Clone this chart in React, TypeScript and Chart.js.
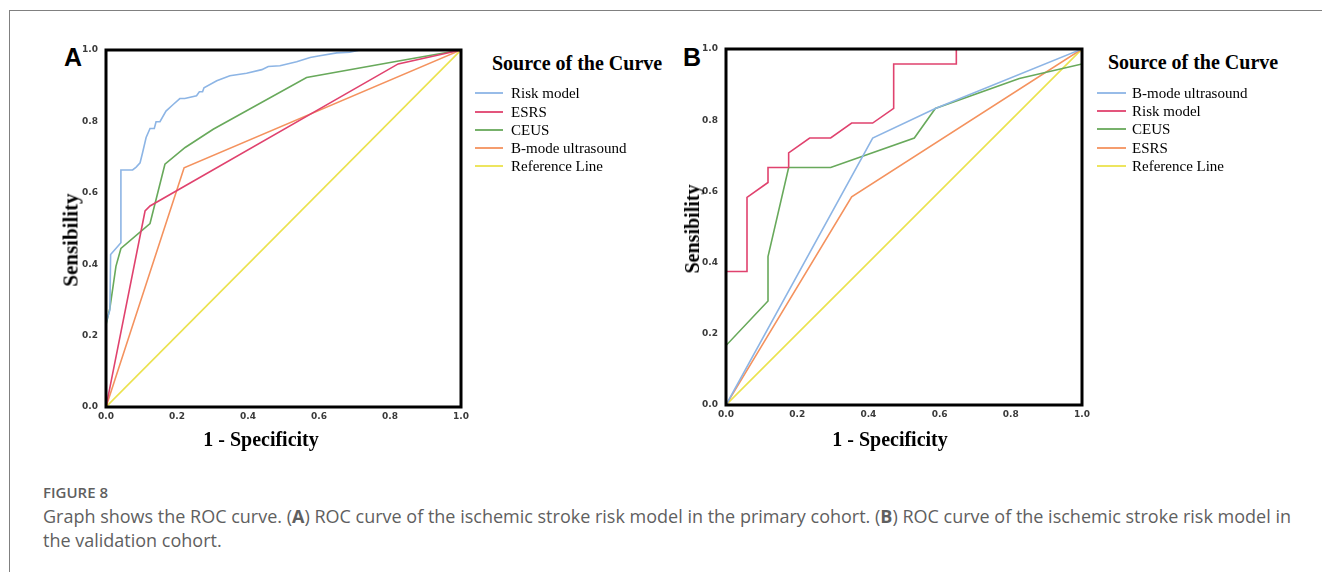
import React, { useEffect, useRef } from 'react';
import { Chart, registerables } from 'chart.js';

Chart.register(...registerables);

// ---------- shared axis ticks ----------
const TICK_VALUES = [0, 0.2, 0.4, 0.6, 0.8, 1.0];
const TICK_LABELS = ['0.0', '0.2', '0.4', '0.6', '0.8', '1.0'];

// ---------- colours ----------
const C_BLUE = '#8db5e5';
const C_RED = '#e0426e';
const C_GREEN = '#68a95b';
const C_ORANGE = '#f4925e';
const C_YELLOW = '#ebe24e';

// ---------- Panel A (primary cohort) ----------
const A_RISK_X = [0, 0, 0.011, 0.013, 0.042, 0.042, 0.075, 0.085, 0.096, 0.103, 0.113, 0.124, 0.136, 0.141, 0.152, 0.169, 0.19, 0.208, 0.222, 0.255, 0.263, 0.272, 0.276, 0.312, 0.349, 0.396, 0.439, 0.457, 0.49, 0.537, 0.575, 0.598, 0.65, 0.687, 0.715, 1];
const A_RISK_Y = [0, 0.236, 0.272, 0.427, 0.46, 0.664, 0.664, 0.672, 0.684, 0.712, 0.755, 0.78, 0.78, 0.799, 0.799, 0.829, 0.848, 0.864, 0.864, 0.872, 0.883, 0.883, 0.894, 0.914, 0.928, 0.935, 0.945, 0.954, 0.956, 0.967, 0.979, 0.983, 0.992, 0.994, 1, 1];
const A_ESRS_X = [0, 0.11, 0.124, 0.823, 1];
const A_ESRS_Y = [0, 0.549, 0.563, 0.961, 1];
const A_CEUS_X = [0, 0, 0.011, 0.028, 0.042, 0.124, 0.166, 0.223, 0.302, 0.565, 0.828, 1];
const A_CEUS_Y = [0, 0.23, 0.277, 0.394, 0.444, 0.514, 0.68, 0.727, 0.778, 0.923, 0.97, 1];
const A_BMODE_X = [0, 0.22, 1];
const A_BMODE_Y = [0, 0.67, 1];
const REF_X = [0, 1];
const REF_Y = [0, 1];

// ---------- Panel B (validation cohort) ----------
const B_BMODE_X = [0, 0.412, 0.588, 1];
const B_BMODE_Y = [0, 0.75, 0.833, 1];
const B_RISK_X = [0, 0, 0.059, 0.059, 0.118, 0.118, 0.176, 0.176, 0.235, 0.294, 0.353, 0.412, 0.471, 0.471, 0.647, 0.647, 1];
const B_RISK_Y = [0, 0.375, 0.375, 0.583, 0.625, 0.667, 0.667, 0.708, 0.75, 0.75, 0.792, 0.792, 0.833, 0.958, 0.958, 1, 1];
const B_CEUS_X = [0, 0, 0.118, 0.118, 0.176, 0.294, 0.529, 0.588, 0.824, 1, 1];
const B_CEUS_Y = [0, 0.167, 0.292, 0.417, 0.667, 0.667, 0.75, 0.833, 0.917, 0.958, 1];
const B_ESRS_X = [0, 0.353, 1];
const B_ESRS_Y = [0, 0.585, 1];

const LEGEND_A = ['Risk model', 'ESRS', 'CEUS', 'B-mode ultrasound', 'Reference Line'];
const LEGEND_A_COLORS = [C_BLUE, C_RED, C_GREEN, C_ORANGE, C_YELLOW];
const LEGEND_B = ['B-mode ultrasound', 'Risk model', 'CEUS', 'ESRS', 'Reference Line'];
const LEGEND_B_COLORS = [C_BLUE, C_RED, C_GREEN, C_ORANGE, C_YELLOW];

const SERIES_A = [
  { label: 'Risk model', x: A_RISK_X, y: A_RISK_Y, color: C_BLUE },
  { label: 'ESRS', x: A_ESRS_X, y: A_ESRS_Y, color: C_RED },
  { label: 'CEUS', x: A_CEUS_X, y: A_CEUS_Y, color: C_GREEN },
  { label: 'B-mode ultrasound', x: A_BMODE_X, y: A_BMODE_Y, color: C_ORANGE },
  { label: 'Reference Line', x: REF_X, y: REF_Y, color: C_YELLOW },
];
const SERIES_B = [
  { label: 'B-mode ultrasound', x: B_BMODE_X, y: B_BMODE_Y, color: C_BLUE },
  { label: 'Risk model', x: B_RISK_X, y: B_RISK_Y, color: C_RED },
  { label: 'CEUS', x: B_CEUS_X, y: B_CEUS_Y, color: C_GREEN },
  { label: 'ESRS', x: B_ESRS_X, y: B_ESRS_Y, color: C_ORANGE },
  { label: 'Reference Line', x: REF_X, y: REF_Y, color: C_YELLOW },
];

const SERIF = '"Liberation Serif", "Times New Roman", serif';
const SANS = '"Liberation Sans", Arial, sans-serif';
const CAPTION_FONT = '"Open Sans", "Noto Sans", sans-serif';

const framePlugin = {
  id: 'frame',
  afterDatasetsDraw(chart: any) {
    const { ctx, chartArea } = chart;
    const { left, top, right, bottom } = chartArea;
    ctx.save();
    ctx.strokeStyle = '#000';
    ctx.lineWidth = 3;
    ctx.strokeRect(left, top, right - left, bottom - top);
    ctx.restore();
  },
};

type Series = { label: string; x: number[]; y: number[]; color: string };

function RocChart(props: {
  series: Series[];
  left: number; top: number; width: number; height: number;
  areaLeft: number; areaTop: number; areaRight: number; areaBottom: number;
}) {
  const ref = useRef<HTMLCanvasElement | null>(null);
  const { series, left, top, width, height, areaLeft, areaTop, areaRight, areaBottom } = props;
  useEffect(() => {
    if (!ref.current) return;
    const tickFont = { family: '"DejaVu Sans", sans-serif', size: 9, weight: 'bold' as const };
    const chart = new Chart(ref.current, {
      type: 'line',
      data: {
        datasets: series.map((s) => ({
          label: s.label,
          data: s.x.map((xv, i) => ({ x: xv, y: s.y[i] })),
          borderColor: s.color,
          backgroundColor: s.color,
          borderWidth: 1.6,
          pointRadius: 0,
          tension: 0,
          fill: false,
        })),
      },
      options: {
        responsive: false,
        animation: false,
        layout: { padding: { top: areaTop - top, right: left + width - areaRight, left: 0, bottom: 0 } },
        plugins: { legend: { display: false }, tooltip: { enabled: false } },
        scales: {
          x: {
            type: 'linear',
            min: 0,
            max: 1,
            afterBuildTicks: (s: any) => { s.ticks = TICK_VALUES.map((v) => ({ value: v })); },
            afterFit: (s: any) => { s.height = top + height - areaBottom; },
            grid: { display: false, drawTicks: false },
            border: { display: false },
            ticks: {
              callback: (_v: any, i: number) => TICK_LABELS[i],
              padding: 4,
              font: tickFont,
              color: '#3a3a3a',
              maxRotation: 0,
              autoSkip: false,
            },
          },
          y: {
            type: 'linear',
            min: 0,
            max: 1,
            afterBuildTicks: (s: any) => { s.ticks = TICK_VALUES.map((v) => ({ value: v })); },
            afterFit: (s: any) => { s.width = areaLeft - left; },
            grid: { display: false, drawTicks: false },
            border: { display: false },
            ticks: {
              callback: (_v: any, i: number) => TICK_LABELS[i],
              padding: 8,
              font: tickFont,
              color: '#3a3a3a',
              autoSkip: false,
            },
          },
        },
      },
      plugins: [framePlugin],
    });
    return () => chart.destroy();
  }, []);
  return (
    <canvas
      ref={ref}
      width={width}
      height={height}
      style={{ position: 'absolute', left, top, width, height }}
    />
  );
}

function Text(props: { x: number; cy: number; size: number; bold?: boolean; family: string; children: any; color?: string; center?: boolean }) {
  const { x, cy, size, bold, family, children, color, center } = props;
  return (
    <div
      style={{
        position: 'absolute',
        left: x,
        top: Math.round(cy - size / 2),
        height: size,
        lineHeight: `${size}px`,
        fontSize: size,
        fontFamily: family,
        fontWeight: bold ? 700 : 400,
        color: color || '#000',
        whiteSpace: 'nowrap',
        transform: center ? 'translateX(-50%)' : undefined,
      }}
    >
      {children}
    </div>
  );
}

function VText(props: { cx: number; cy: number; size: number; children: any }) {
  const { cx, cy, size, children } = props;
  return (
    <div
      style={{
        position: 'absolute',
        left: cx,
        top: cy,
        fontSize: size,
        lineHeight: `${size}px`,
        fontFamily: SERIF,
        fontWeight: 700,
        whiteSpace: 'nowrap',
        transform: 'translate(-50%, -50%) rotate(-90deg)',
      }}
    >
      {children}
    </div>
  );
}

function Legend(props: { x0: number; x1: number; textX: number; titleX: number; titleCy: number; rows: number[]; labels: string[]; colors: string[] }) {
  const { x0, x1, textX, titleX, titleCy, rows, labels, colors } = props;
  return (
    <>
      <Text x={titleX} cy={titleCy} size={20} bold family={SERIF}>Source of the Curve</Text>
      {labels.map((l, i) => (
        <React.Fragment key={l}>
          <div style={{ position: 'absolute', left: x0, top: Math.round(rows[i]) - 1, width: x1 - x0, height: 2, background: colors[i], opacity: 0.9 }} />
          <Text x={textX} cy={rows[i]} size={15} family={SERIF}>{l}</Text>
        </React.Fragment>
      ))}
    </>
  );
}

export default function App() {
  const rowsA = [93, 112, 130, 148, 166];
  const rowsB = [93, 111, 129, 148, 166];
  return (
    <div style={{ position: 'absolute', left: 0, top: 0, width: 1322, height: 572, background: '#fff', overflow: 'hidden' }}>
      {/* frame lines */}
      <div style={{ position: 'absolute', left: 9, top: 10, width: 1313, height: 1, background: '#808080' }} />
      <div style={{ position: 'absolute', left: 9, top: 10, width: 1, height: 562, background: '#808080' }} />

      {/* Panel A */}
      <Text x={64} cy={57} size={25} bold family={SANS}>A</Text>
      <RocChart series={SERIES_A} left={60} top={20} width={420} height={440} areaLeft={106} areaTop={50} areaRight={461} areaBottom={407} />
      <VText cx={71} cy={240} size={21}>Sensibility</VText>
      <Text x={261} cy={439} size={20} bold family={SERIF} center>1 - Specificity</Text>
      <Legend x0={475} x1={503} textX={511} titleX={492} titleCy={63} rows={rowsA} labels={LEGEND_A} colors={LEGEND_A_COLORS} />

      {/* Panel B */}
      <Text x={683} cy={57} size={25} bold family={SANS}>B</Text>
      <RocChart series={SERIES_B} left={680} top={20} width={420} height={440} areaLeft={726} areaTop={49} areaRight={1082} areaBottom={405} />
      <VText cx={692} cy={229} size={20}>Sensibility</VText>
      <Text x={890} cy={439} size={20} bold family={SERIF} center>1 - Specificity</Text>
      <Legend x0={1097} x1={1126} textX={1132} titleX={1108} titleCy={62} rows={rowsB} labels={LEGEND_B} colors={LEGEND_B_COLORS} />

      {/* Caption */}
      <Text x={43} cy={492} size={15} family={CAPTION_FONT} color="#5f5f5f">
        <span style={{ fontWeight: 600 }}>FIGURE 8</span>
      </Text>
      <Text x={43} cy={516} size={18} family={CAPTION_FONT} color="#5f5f5f">
        Graph shows the ROC curve. (<b>A</b>) ROC curve of the ischemic stroke risk model in the primary cohort. (<b>B</b>) ROC curve of the ischemic stroke risk model in
      </Text>
      <Text x={43} cy={540} size={18} family={CAPTION_FONT} color="#5f5f5f">
        the validation cohort.
      </Text>
    </div>
  );
}
